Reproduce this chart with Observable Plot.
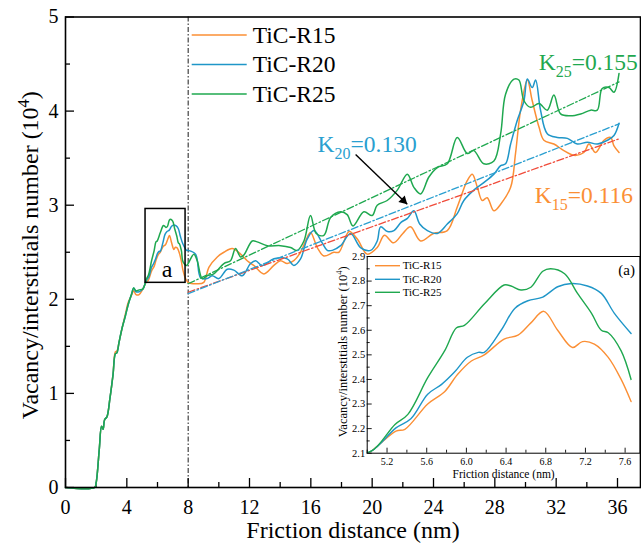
<!DOCTYPE html>
<html><head><meta charset="utf-8">
<script src="https://cdn.jsdelivr.net/npm/d3@7"></script>
<script src="https://cdn.jsdelivr.net/npm/@observablehq/plot@0.6"></script>
<style>
body{margin:0;background:#fff;}
#chart{position:relative;width:641px;height:546px;}
#chart svg{position:absolute;overflow:visible;}
</style></head><body><div id="chart"></div>
<script>
// ---------- data ----------
const seriesNames = ["TiC-R15", "TiC-R20", "TiC-R25"];
const earlyX  = [0, 1.9, 2.0, 2.2, 2.35, 2.45, 2.55, 2.7, 2.9, 3.1, 3.25, 3.35, 3.5, 3.7, 3.9, 4.1, 4.3, 4.45, 4.6, 4.8];
const early15Y = [0, 0, 0.05, 0.4, 0.65, 0.62, 0.72, 0.75, 0.95, 1.2, 1.44, 1.45, 1.55, 1.7, 1.84, 1.97, 2.04, 2.09, 2.05, 2.05];
const early20Y = [0, 0, 0.05, 0.4, 0.65, 0.62, 0.72, 0.75, 0.95, 1.2, 1.42, 1.43, 1.55, 1.7, 1.82, 1.95, 2.05, 2.12, 2.08, 2.08];
const early25Y = [0, 0, 0.05, 0.4, 0.65, 0.62, 0.72, 0.75, 0.95, 1.2, 1.42, 1.43, 1.55, 1.7, 1.82, 1.95, 2.05, 2.12, 2.09, 2.10];

const inset15X = [5.04,5.29,5.38,5.61,5.78,5.91,6.05,6.18,6.38,6.52,6.65,6.78,6.92,7.07,7.17,7.29,7.43,7.56,7.66];
const inset15Y = [2.108,2.19,2.197,2.30,2.35,2.42,2.475,2.50,2.564,2.58,2.63,2.677,2.60,2.53,2.554,2.544,2.49,2.40,2.31];
const inset20X = [5.04,5.29,5.44,5.61,5.75,5.88,6.01,6.12,6.18,6.35,6.49,6.62,6.77,6.92,7.06,7.22,7.36,7.49,7.66];
const inset20Y = [2.108,2.203,2.24,2.34,2.38,2.43,2.49,2.51,2.51,2.60,2.69,2.72,2.735,2.777,2.79,2.78,2.75,2.67,2.587];
const inset25X = [5.04,5.28,5.41,5.61,5.78,5.90,5.98,6.18,6.38,6.45,6.55,6.65,6.77,6.85,6.99,7.12,7.26,7.36,7.43,7.56,7.66];
const inset25Y = [2.108,2.217,2.258,2.407,2.516,2.61,2.62,2.707,2.784,2.78,2.764,2.775,2.84,2.85,2.83,2.75,2.67,2.60,2.59,2.516,2.40];

const late15X = [7.83,8.0,8.59,9.02,9.35,9.9,10.33,10.87,11.42,11.85,12.28,12.94,13.59,14.02,14.46,14.89,15.33,15.66,15.98,16.42,16.85,17.5,17.83,18.5,19.03,19.68,20.33,20.8,21.4,22.0,22.5,23.16,24.0,24.9,25.55,26.2,26.53,26.86,27.18,27.5,27.94,28.38,29.03,29.35,29.68,30.12,30.44,30.88,31.2,31.85,32.5,33.16,33.81,34.14,34.57,35.12,35.55,35.77,36.1];
const late15Y = [2.22,2.18,2.165,2.18,2.34,2.45,2.50,2.54,2.48,2.41,2.36,2.27,2.36,2.41,2.38,2.41,2.50,2.62,2.71,2.55,2.46,2.50,2.50,2.72,2.64,2.48,2.55,2.68,2.60,2.70,2.77,2.62,2.70,2.73,2.98,3.26,3.33,3.19,3.05,3.08,2.94,3.01,3.19,3.55,4.01,4.33,4.11,3.83,3.69,3.65,3.58,3.53,3.56,3.65,3.56,3.69,3.72,3.63,3.56];
const late20X = [7.9,8.0,8.48,8.81,9.24,9.57,10.0,10.55,10.98,11.52,12.07,12.4,12.83,13.59,14.46,14.89,15.33,15.76,16.2,16.74,17.07,17.4,17.94,18.59,19.24,19.9,20.33,20.55,21.0,21.42,21.9,22.3,22.72,23.1,23.6,24.25,24.9,25.55,25.98,26.63,27.28,27.94,28.38,28.7,29.03,29.46,29.9,30.12,30.44,30.66,30.98,31.42,32.07,32.73,33.38,34.03,34.68,35.34,35.77,36.1];
const late20Y = [2.52,2.52,2.48,2.23,2.22,2.25,2.22,2.32,2.31,2.25,2.38,2.41,2.36,2.43,2.43,2.36,2.43,2.64,2.73,2.60,2.52,2.52,2.57,2.70,2.55,2.52,2.62,2.77,2.72,2.73,2.82,2.86,2.94,2.80,2.73,2.70,2.80,2.91,3.05,3.16,3.24,3.33,3.42,3.44,3.65,3.90,4.11,4.34,4.25,4.33,4.01,3.76,3.72,3.71,3.65,3.67,3.65,3.69,3.74,3.87];
const late25X = [7.9,8.0,8.37,8.59,8.92,9.24,9.67,10.33,10.76,11.09,11.42,11.63,12.18,12.5,13.16,14.02,14.68,15.11,15.55,15.98,16.35,16.85,17.29,17.94,18.37,18.75,19.46,20.0,20.33,20.98,21.64,22.29,22.72,23.16,23.7,24.25,24.9,25.55,26.2,26.63,27.28,27.94,28.38,28.7,29.25,29.57,29.9,30.33,30.88,31.42,31.85,32.29,32.94,33.6,34.25,34.68,35.0,35.45,35.77,36.1];
const late25Y = [2.36,2.38,2.48,2.41,2.22,2.25,2.27,2.38,2.41,2.54,2.45,2.47,2.62,2.61,2.57,2.57,2.55,2.52,2.62,2.89,2.70,2.68,2.87,2.93,2.90,2.78,2.93,2.89,3.00,3.05,3.16,3.33,3.19,3.12,3.30,3.40,3.44,3.72,3.55,3.58,3.44,3.47,3.76,4.18,4.34,4.33,4.11,4.04,4.08,4.01,4.17,3.97,3.95,3.97,4.01,4.01,4.24,4.25,4.20,4.40];

// linear fits (K lines)
const fitX   = [8, 36.1];
const fit15Y = [2.075, 3.705];
const fit20Y = [2.06, 3.865];
const fit25Y = [2.165, 4.31];
const kTexts = ["K_{15}=0.116", "K_{20}=0.130", "K_{25}=0.155"];

// ticks
const xMajor = [0,4,8,12,16,20,24,28,32,36];
const xMinor = [2,6,10,14,18,22,26,30,34];
const yMajor = [0,1,2,3,4,5];
const yMinor = [0.5,1.5,2.5,3.5,4.5];
const insetXMajor = [5.2,5.6,6.0,6.4,6.8,7.2,7.6];
const insetXMinor = [5.0,5.4,5.8,6.2,6.6,7.0,7.4];
const insetYMajor = [2.1,2.2,2.3,2.4,2.5,2.6,2.7,2.8,2.9];
const insetYMinor = [2.15,2.25,2.35,2.45,2.55,2.65,2.75,2.85];

// ---------- helpers ----------
const zip = (xs, ys) => d3.range(Math.min(xs.length, ys.length)).map(i => ({x: xs[i], y: ys[i]}));
const colors = ["#fb8f35", "#1f96c8", "#1fa84f"];
const fitColors = ["#f04b3a", "#2a9fd0", "#1fa84f"];
const font = "'Liberation Serif', 'Times New Roman', serif";

const main15 = zip([...earlyX, ...inset15X, ...late15X], [...early15Y, ...inset15Y, ...late15Y]);
const main20 = zip([...earlyX, ...inset20X, ...late20X], [...early20Y, ...inset20Y, ...late20Y]);
const main25 = zip([...earlyX, ...inset25X, ...late25X], [...early25Y, ...inset25Y, ...late25Y]);
const mainSeries = [main15, main20, main25];
const fits = [zip(fitX, fit15Y), zip(fitX, fit20Y), zip(fitX, fit25Y)];
const insetSeries = [
  zip([earlyX.at(-1), ...inset15X], [early15Y.at(-1), ...inset15Y]),
  zip([earlyX.at(-1), ...inset20X], [early20Y.at(-1), ...inset20Y]),
  zip([earlyX.at(-1), ...inset25X], [early25Y.at(-1), ...inset25Y])
];

// annotations (data coordinates)
const boxA = [{x1: 5.22, x2: 7.83, y1: 2.175, y2: 2.96}];
const labelA = [{x: 6.63, y: 2.32, t: "a"}];
const kPos = [{x: 30.6, y: 3.10}, {x: 16.44, y: 3.645}, {x: 30.86, y: 4.52}];
const arrowA = [{x1: 18.92, y1: 3.54, x2: 22.29, y2: 3.01}];

// ---------- main plot ----------
const W = 641, H = 546;
const mL = 65, mR = 1, mT = 16.5, mB = 59;
const fW = W - mL - mR, fH = H - mT - mB;
const xDomain = [0, 37.5], yDomain = [0, 5];

// arrow head orientation from the plot's own scales
const sx = Plot.scale({x: {domain: xDomain, range: [mL, W - mR]}});
const sy = Plot.scale({y: {domain: yDomain, range: [H - mB, mT]}});
const a0 = arrowA[0];
const adx = sx.apply(a0.x2) - sx.apply(a0.x1), ady = sy.apply(a0.y2) - sy.apply(a0.y1);
const theta = Math.atan2(ady, adx);
const headR = 3.4, tipOff = 1.555 * headR;

const mainMarks = [
  Plot.ruleX([8], {stroke: "#000", strokeWidth: 0.9, strokeDasharray: "5,2,1.5,2"}),
  Plot.tickX(xMajor, {x: d => d, stroke: "#000", strokeWidth: 1.3, insetTop: fH - 9}),
  Plot.tickX(xMinor, {x: d => d, stroke: "#000", strokeWidth: 1.3, insetTop: fH - 5}),
  Plot.tickY(yMajor, {y: d => d, stroke: "#000", strokeWidth: 1.3, insetRight: fW - 9}),
  Plot.tickY(yMinor, {y: d => d, stroke: "#000", strokeWidth: 1.3, insetRight: fW - 5}),
  ...mainSeries.map((s, i) => Plot.line(s, {x: "x", y: "y", stroke: colors[i], strokeWidth: 1.5, curve: "catmull-rom"})),
  ...fits.map((s, i) => Plot.line(s, {x: "x", y: "y", stroke: fitColors[i], strokeWidth: 1.3, strokeDasharray: "7,2.5,1.5,2.5"})),
  Plot.rect(boxA, {x1: "x1", x2: "x2", y1: "y1", y2: "y2", fill: "none", stroke: "#000", strokeWidth: 1.5}),
  Plot.text(labelA, {x: "x", y: "y", text: "t", fontSize: 24, fill: "#000"}),
  Plot.link(arrowA, {x1: "x1", y1: "y1", x2: "x2", y2: "y2", stroke: "#000", strokeWidth: 1.4}),
  Plot.dot(arrowA, {x: "x2", y: "y2", symbol: "triangle", r: headR, fill: "#000", stroke: "none",
    rotate: theta * 180 / Math.PI + 90, dx: -Math.cos(theta) * tipOff, dy: -Math.sin(theta) * tipOff}),
  ...kPos.map((p, i) => Plot.text([p], {x: "x", y: "y", text: () => kTexts[i], fill: i === 0 ? colors[0] : fitColors[i], fontSize: 23.5, textAnchor: "start", lineAnchor: "middle"})),
  Plot.frame({stroke: "#000", strokeWidth: 1.6}),
  Plot.text(xMajor, {x: d => d, frameAnchor: "bottom", dy: 12, lineAnchor: "top", text: d => String(d), fontSize: 20, fill: "#000"}),
  Plot.text(yMajor, {y: d => d, frameAnchor: "left", dx: -7, textAnchor: "end", text: d => String(d), fontSize: 20, fill: "#000"}),
  Plot.text(["Friction distance (nm)"], {frameAnchor: "bottom", dy: 43, lineAnchor: "middle", textAnchor: "middle", fontSize: 24, fill: "#000"}),
  Plot.text(["Vacancy/interstitials number (10^{4})"], {frameAnchor: "left", dx: -35, dy: 3, rotate: -90, textAnchor: "middle", lineAnchor: "middle", fontSize: 24, fill: "#000"})
];

const mainSvg = Plot.plot({
  width: W, height: H,
  marginLeft: mL, marginRight: mR, marginTop: mT, marginBottom: mB,
  x: {domain: xDomain, axis: null},
  y: {domain: yDomain, axis: null},
  style: {fontFamily: font, fontSize: "20px", background: "none", overflow: "visible", color: "#000"},
  marks: mainMarks
});
mainSvg.style.left = "0px"; mainSvg.style.top = "0px";

// ---------- inset ----------
const iL = 320, iT = 240, iW = 321, iH = 245;
const imL = 46.7, imR = 1.5, imT = 16, imB = 32.3;
const ifW = iW - imL - imR, ifH = iH - imT - imB;
const insetSvg = Plot.plot({
  width: iW, height: iH,
  marginLeft: imL, marginRight: imR, marginTop: imT, marginBottom: imB,
  x: {domain: [5.0, 7.75], axis: null},
  y: {domain: [2.1, 2.9], axis: null},
  style: {fontFamily: font, fontSize: "10px", background: "none", overflow: "visible", color: "#000"},
  marks: [
    Plot.tickX(insetXMajor, {x: d => d, stroke: "#000", strokeWidth: 0.9, insetTop: ifH - 5}),
    Plot.tickX(insetXMinor, {x: d => d, stroke: "#000", strokeWidth: 0.9, insetTop: ifH - 3}),
    Plot.tickY(insetYMajor, {y: d => d, stroke: "#000", strokeWidth: 0.9, insetRight: ifW - 5}),
    Plot.tickY(insetYMinor, {y: d => d, stroke: "#000", strokeWidth: 0.9, insetRight: ifW - 3}),
    ...insetSeries.map((s, i) => Plot.line(s, {x: "x", y: "y", stroke: colors[i], strokeWidth: 1.4, curve: "catmull-rom", clip: true})),
    Plot.frame({stroke: "#000", strokeWidth: 1}),
    Plot.text(insetXMajor, {x: d => d, frameAnchor: "bottom", dy: 5, lineAnchor: "top", text: d => d.toFixed(1), fontSize: 10, fill: "#000"}),
    Plot.text(insetYMajor, {y: d => d, frameAnchor: "left", dx: -2, textAnchor: "end", text: d => d.toFixed(1), fontSize: 10.5, fill: "#000"}),
    Plot.text(["Friction distance (nm)"], {frameAnchor: "bottom", dy: 21, lineAnchor: "middle", textAnchor: "middle", fontSize: 11.5, fill: "#000"}),
    Plot.text(["Vacancy/interstitials number (10^{4})"], {frameAnchor: "left", dx: -24, dy: -3, rotate: -90, textAnchor: "middle", lineAnchor: "middle", fontSize: 12.5, fill: "#000"}),
    Plot.text(["(a)"], {frameAnchor: "top-right", dx: -5, dy: 14, textAnchor: "end", lineAnchor: "middle", fontSize: 15, fill: "#000"})
  ]
});
insetSvg.style.left = iL + "px"; insetSvg.style.top = iT + "px";

// ---------- legends ----------
function legend(svg, x1, x2, tx, ys, fs, sw) {
  const g = d3.select(svg).append("g").attr("font-family", font).attr("text-anchor", "start");
  seriesNames.forEach((n, i) => {
    g.append("line").attr("x1", x1).attr("x2", x2).attr("y1", ys[i]).attr("y2", ys[i])
      .attr("stroke", colors[i]).attr("stroke-width", sw);
    g.append("text").attr("x", tx).attr("y", ys[i]).attr("dy", "0.33em")
      .attr("text-anchor", "start").attr("font-size", fs).attr("fill", "#000").text(n);
  });
}
legend(mainSvg, 191.7, 246.7, 252.7, [35, 64.5, 94], 23.5, 1.6);
legend(insetSvg, 55, 80, 82.7, [25.7, 39.3, 52.3], 11, 1.4);

// ---------- rich text (sub/superscripts) ----------
function rich(svg) {
  d3.select(svg).selectAll("text").each(function () {
    const txt = this.textContent;
    if (!/[_^]\{/.test(txt)) return;
    const cs = getComputedStyle(this);
    const fs = parseFloat(cs.fontSize) || 16;
    const anchor = cs.textAnchor;
    const parts = txt.split(/([_^]\{[^}]*\})/).filter(s => s.length);
    const el = d3.select(this); el.text(null);
    let shift = 0;
    for (const p of parts) {
      const m = p.match(/^([_^])\{([^}]*)\}$/);
      if (m) {
        const d = m[1] === "_" ? fs * 0.3 : -fs * 0.38;
        el.append("tspan").attr("dy", d - shift).attr("font-size", fs * 0.68).text(m[2]);
        shift = d;
      } else {
        const t = el.append("tspan").text(p);
        if (shift) t.attr("dy", -shift);
        shift = 0;
      }
    }
    if (anchor !== "start") {
      this.setAttribute("text-anchor", "start");
      const len = this.getComputedTextLength();
      const x0 = parseFloat(this.getAttribute("x")) || 0;
      this.setAttribute("x", x0 - (anchor === "end" ? len : len / 2));
    }
  });
}

const chart = document.getElementById("chart");
chart.appendChild(mainSvg);
chart.appendChild(insetSvg);
rich(mainSvg);
rich(insetSvg);
</script></body></html>
